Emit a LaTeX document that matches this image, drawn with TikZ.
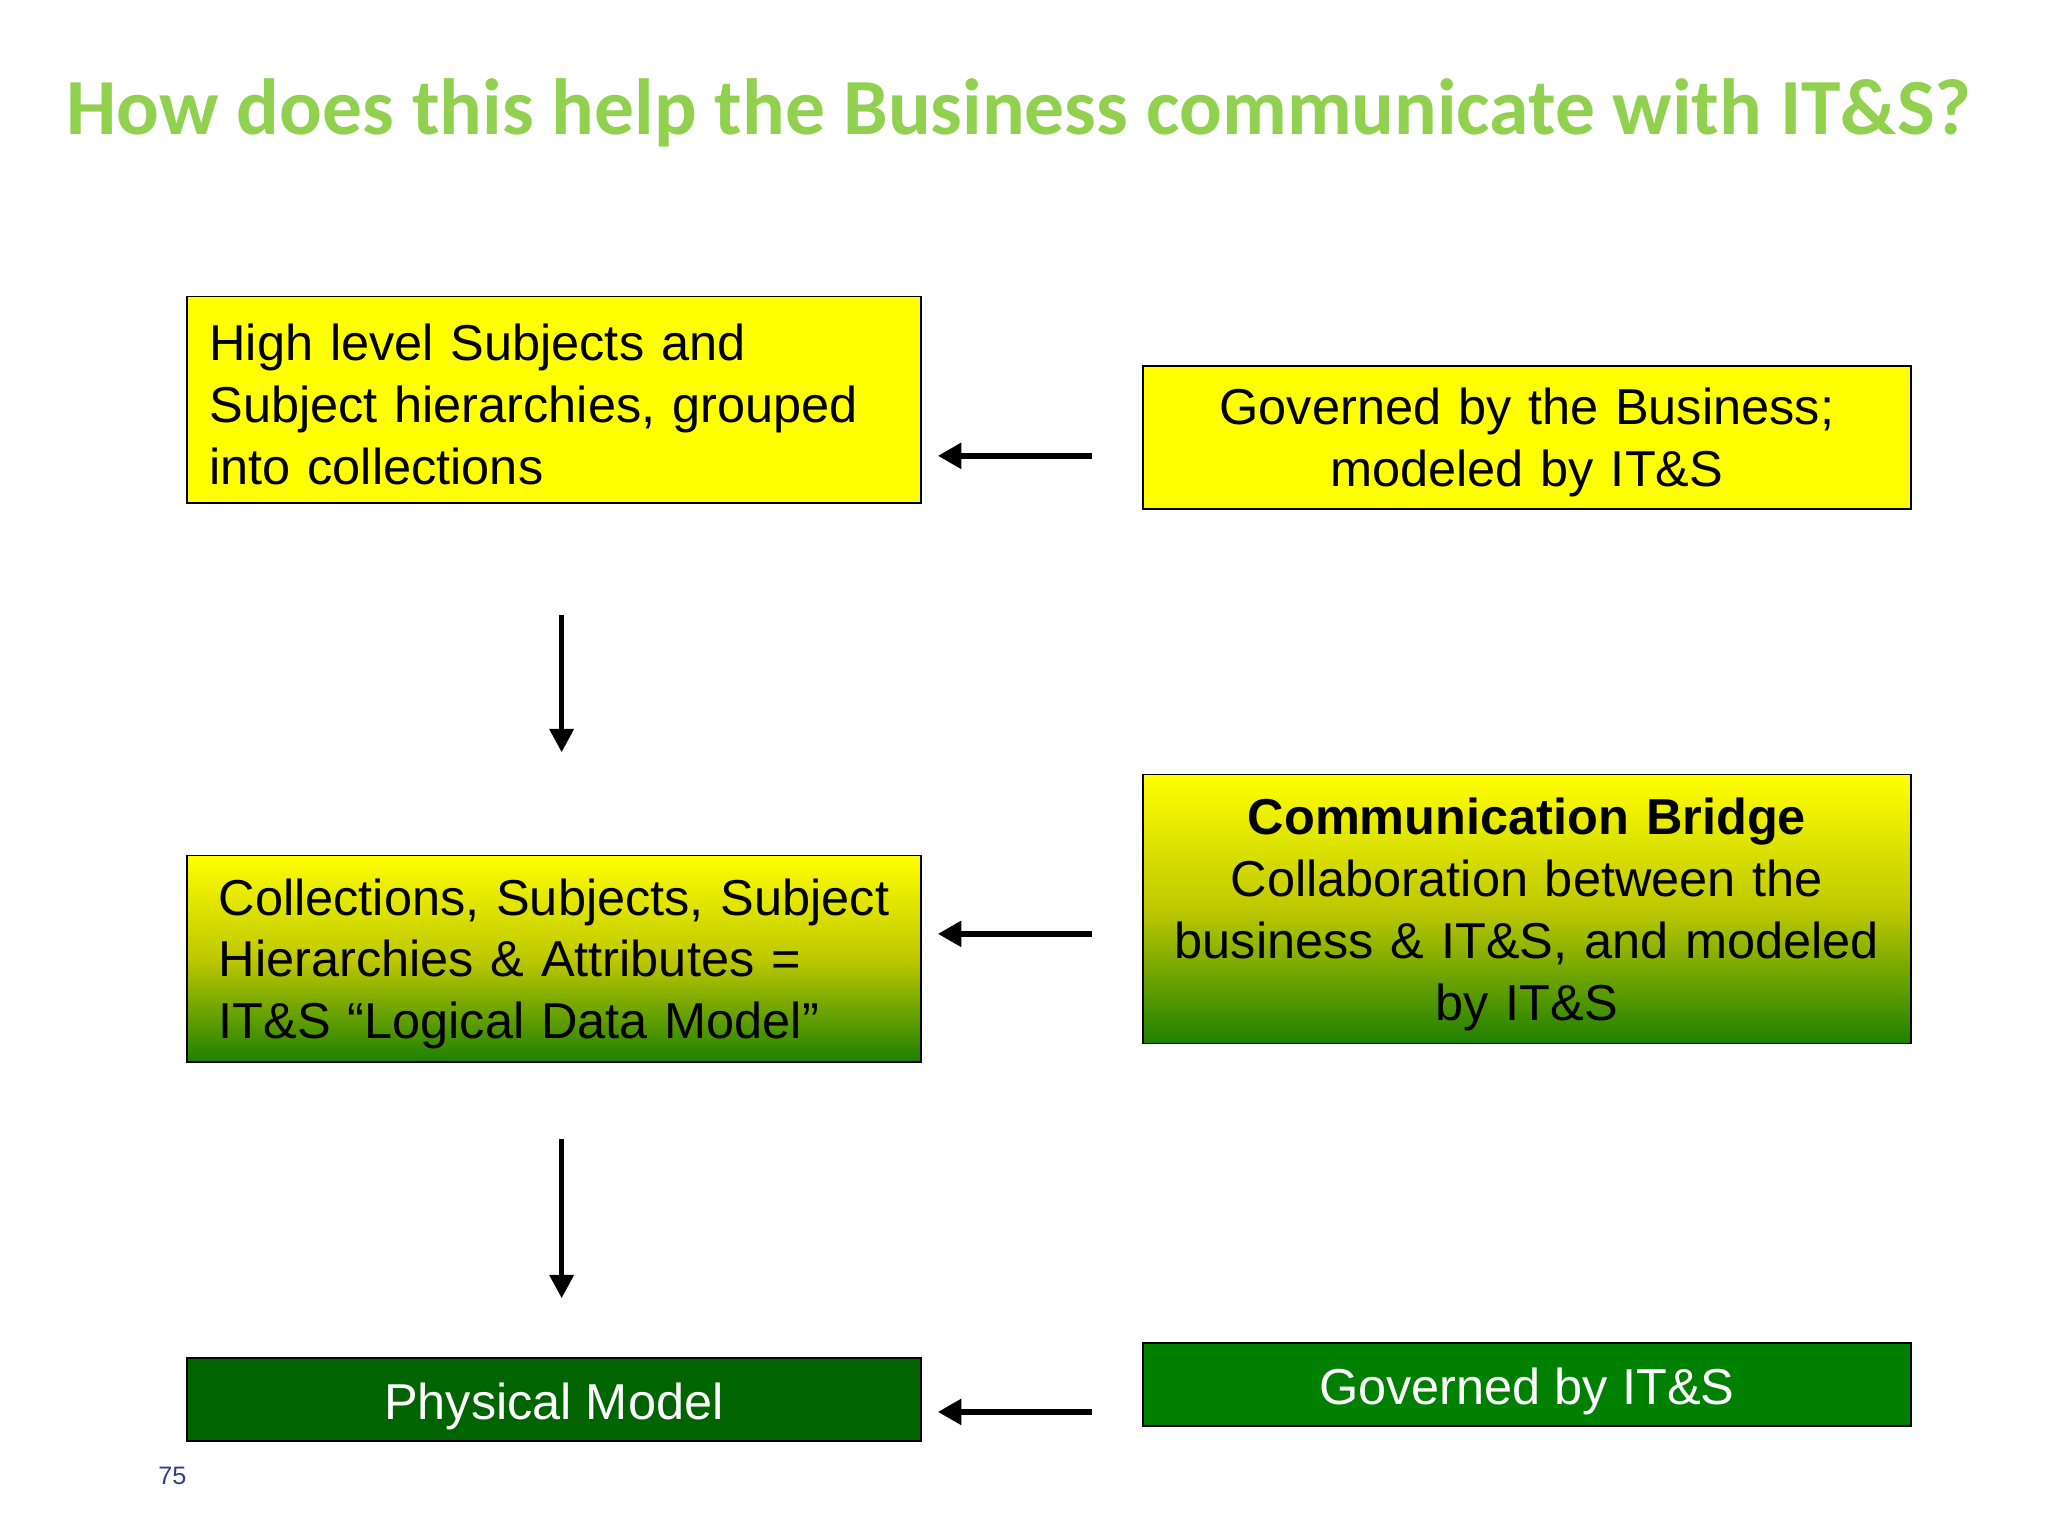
\documentclass[tikz,border=0pt]{standalone}
\usepackage{fontspec}
\setmainfont{Liberation Sans}
\newfontfamily\titlefont{Carlito}
\usetikzlibrary{arrows.meta}
\definecolor{titlegreen}{RGB}{146,208,80}
\definecolor{boxyellow}{RGB}{255,255,0}
\definecolor{gradmid}{RGB}{190,200,0}
\definecolor{gradbot}{RGB}{30,128,0}
\definecolor{darkgreenbox}{RGB}{0,100,0}
\definecolor{greenbox}{RGB}{0,128,0}
\definecolor{pagenum}{RGB}{50,60,150}
\tikzset{
  boxframe/.style={draw=black, line width=0.8pt, inner sep=0pt},
  leftw/.style={minimum width=11.24cm},
  rightw/.style={minimum width=11.76cm},
  boxtext/.style={inner sep=0pt, font=\fontsize{22}{27}\selectfont},
  lefttext/.style={boxtext, text width=10.6cm, align=left},
  righttext/.style={boxtext, text width=11.2cm, align=center},
  yellowfill/.style={fill=boxyellow},
  gradfill/.style={top color=boxyellow, bottom color=gradbot, middle color=gradmid},
  harrow/.style={line width=2.8pt, -{Triangle[length=0.36cm,width=0.38cm]}},
  varrow/.style={line width=2.4pt, -{Triangle[length=0.36cm,width=0.36cm]}}
}
\begin{document}
\begin{tikzpicture}[x=0.02cm, y=-0.02cm]
\useasboundingbox (0,0) rectangle (1568,1176);
\node[anchor=base, text=titlegreen, font=\titlefont\bfseries\fontsize{34.7}{40}\selectfont] (title) at (780,103) {How does this help the Business communicate with IT\&S?};

\node[boxframe, leftw, yellowfill, minimum height=3.16cm] (b1) at (424,306) {};
\node[lefttext, anchor=west] (b1t) at (160,310) {High level Subjects and\\Subject hierarchies, grouped\\into collections};

\node[boxframe, rightw, yellowfill, minimum height=2.2cm] (b2) at (1169,335) {};
\node[righttext] (b2t) at (1169,339) {Governed by the Business;\\modeled by IT\&S};

\node[boxframe, leftw, gradfill, minimum height=3.16cm] (b3) at (424,734) {};
\node[lefttext, anchor=west] (b3t) at (167,738) {Collections, Subjects, Subject\\Hierarchies \& Attributes =\\IT\&S “Logical Data Model”};

\node[boxframe, rightw, gradfill, minimum height=4.12cm] (b4) at (1169,696) {};
\node[righttext] (b4t) at (1169,700) {\textbf{Communication Bridge}\\Collaboration between the\\business \& IT\&S, and modeled\\by IT\&S};

\node[boxframe, leftw, fill=darkgreenbox, minimum height=1.26cm] (b5) at (424,1071.5) {};
\node[boxtext, text=white] (b5t) at (424,1076.5) {Physical Model};

\node[boxframe, rightw, fill=greenbox, minimum height=1.28cm] (b6) at (1169,1060) {};
\node[boxtext, text=white] (b6t) at (1169,1065) {Governed by IT\&S};

\coordinate (h1s) at (836,349); \coordinate (h1e) at (718,349);
\coordinate (h2s) at (836,715); \coordinate (h2e) at (718,715);
\coordinate (h3s) at (836,1081); \coordinate (h3e) at (718,1081);
\coordinate (v1s) at (430,471); \coordinate (v1e) at (430,576);
\coordinate (v2s) at (430,872); \coordinate (v2e) at (430,994);
\draw[harrow] (h1s) -- (h1e);
\draw[harrow] (h2s) -- (h2e);
\draw[harrow] (h3s) -- (h3e);
\draw[varrow] (v1s) -- (v1e);
\draw[varrow] (v2s) -- (v2e);

\node[text=pagenum, font=\fontsize{11}{13}\selectfont] (pg) at (132,1130) {75};
\end{tikzpicture}
\end{document}
